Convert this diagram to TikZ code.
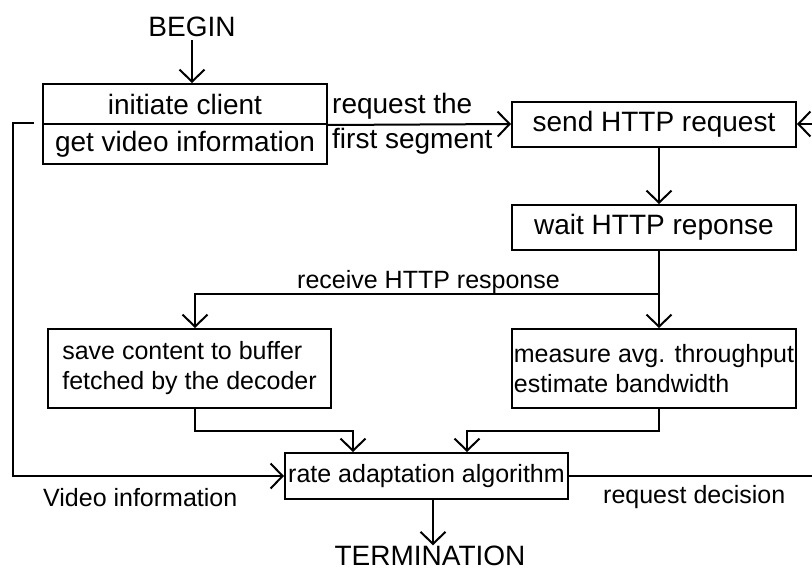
\documentclass[tikz,border=0pt]{standalone}
\usepackage{fontspec}
\setmainfont{Liberation Sans}
\usetikzlibrary{arrows.meta}
\begin{document}
\begin{tikzpicture}[x=1pt,y=-1pt,
  big/.style={font=\fontsize{28}{32}\selectfont},
  small/.style={font=\fontsize{25}{30}\selectfont},
  box/.style={draw, line width=2pt, inner sep=0pt, anchor=center},
  lbl/.style={inner sep=0pt},
  conn/.style={line width=2pt},
  arr/.style={conn, -{Straight Barb[length=12pt,width=25pt,line width=2pt]}}]
\useasboundingbox (0,0) rectangle (812,573);
% nodes
\node[lbl,big] (begin) at (192,27) {BEGIN};
\node[box,big,minimum width=284pt,minimum height=40pt] (init1) at (185,104) {initiate client};
\node[box,big,minimum width=284pt,minimum height=40pt] (init2) at (185,144) {get video information};
\node[box,big,minimum width=284pt,minimum height=45pt] (send) at (654,124) {send HTTP request};
\node[box,big,minimum width=284pt,minimum height=45pt] (wait) at (654,227.5) {wait HTTP reponse};
\node[box,small,align=left,minimum width=283pt,minimum height=79pt] (save) at (189.5,368.5) {save content to buffer\\fetched by the decoder};
\node[box,small,align=left,minimum width=284pt,minimum height=79pt] (meas) at (654,368.5) {measure avg. throughput\\estimate bandwidth};
\node[box,small,minimum width=283pt,minimum height=46pt] (rate) at (426.5,476) {rate adaptation algorithm};
\node[lbl,big,anchor=base] (term) at (430,565) {TERMINATION};
% labels
\node[lbl,big,anchor=base west] (l1) at (332,113) {request the};
\node[lbl,big,anchor=base west] (l2) at (332,148) {first segment};
\node[lbl,small,anchor=base west] (l3) at (297,288) {receive HTTP response};
\node[lbl,small,anchor=base west] (l4) at (43,506) {Video information};
\node[lbl,small,anchor=base west] (l5) at (603,503) {request decision};
% helper coordinates
\coordinate (cx) at (659,0);
\coordinate (sx) at (195,0);
\coordinate (j1) at (659,294);
\coordinate (a1) at (353,431);
\coordinate (a2) at (467,431);
\coordinate (lx) at (13,0);
\coordinate (re) at (812,124);
\coordinate (rd) at (812,476);
\coordinate (tx) at (433,0);
% connectors
\draw[arr] ([yshift=-3pt]begin.south) -- (init1.north -| begin);
\draw[arr] (init1.south east) -- (send.west);
\draw[arr] (re) -- (send.east);
\draw[arr] (cx |- send.south) -- (cx |- wait.north);
\draw[arr] (cx |- wait.south) -- (cx |- meas.north);
\draw[arr] (j1) -| (sx |- save.north);
\draw[arr] (sx |- save.south) |- (a1) -- (a1 |- rate.north);
\draw[arr] (cx |- meas.south) |- (a2) -- (a2 |- rate.north);
\draw[arr] ([xshift=-8pt]init2.north west) -| (lx |- rate.west) -- (rate.west);
\draw[conn] (rate.east) -- (rd);
\draw[arr] (tx |- rate.south) -- (tx |- term.north);
\end{tikzpicture}
\end{document}
